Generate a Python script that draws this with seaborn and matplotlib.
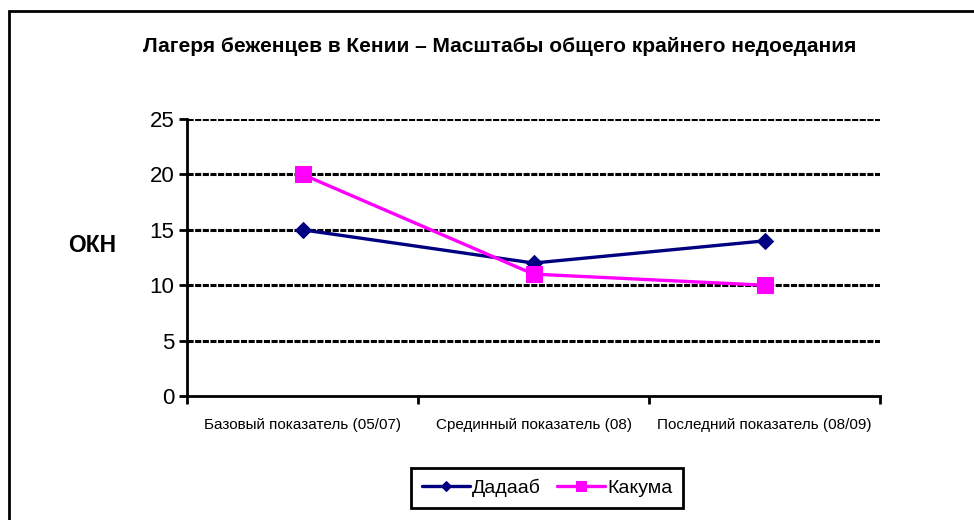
import numpy as np
import pandas as pd
import matplotlib
matplotlib.use("Agg")
import matplotlib.pyplot as plt
import seaborn as sns
from matplotlib.patches import Rectangle

periods = ["Базовый показатель (05/07)", "Срединный показатель (08)", "Последний показатель (08/09)"]
dadaab = [15, 12, 14]
kakuma = [20, 11, 10]
y_ticks = [0, 5, 10, 15, 20, 25]

df = pd.DataFrame({
    "period": periods * 2,
    "pos": list(range(len(periods))) * 2,
    "value": dadaab + kakuma,
    "camp": ["Дадааб"] * 3 + ["Какума"] * 3,
})

sns.set_style("white")
plt.rcParams["font.family"] = ["Liberation Sans", "DejaVu Sans"]
plt.rcParams.update({"text.color": "black", "axes.labelcolor": "black",
                     "xtick.color": "black", "ytick.color": "black"})

fig = plt.figure(figsize=(9.74, 5.2), dpi=100)
ax = fig.add_axes([187 / 974, 1 - 396 / 520, 693 / 974, 277 / 520])

# outer chart border (runs off the right and bottom edges)
fig.patches.append(Rectangle((8.5 / 974, -0.1), 1.2, (1 - 10.5 / 520) + 0.1,
                             transform=fig.transFigure, fill=False,
                             edgecolor="black", linewidth=2))

for y in y_ticks[1:]:
    ax.axhline(y, color="black", linewidth=2.2, linestyle=(0, (2.0, 0.5)), zorder=1)

sns.lineplot(data=df[df.camp == "Дадааб"], x="pos", y="value", ax=ax,
             color="#000080", marker="D", markersize=8, linewidth=2.4,
             markeredgecolor="#000080", label="Дадааб", zorder=3)
sns.lineplot(data=df[df.camp == "Какума"], x="pos", y="value", ax=ax,
             color="#FF00FF", marker="s", markersize=11, linewidth=2.4,
             markeredgecolor="#FF00FF", label="Какума", zorder=3)

ax.set_xlim(-0.5, 2.5)
ax.set_ylim(0, 25)
ax.set_yticks(y_ticks)
ax.set_yticklabels([str(v) for v in y_ticks], fontsize=16)
ax.set_xticks(np.arange(-0.5, 2.6, 1.0))
ax.set_xticklabels([])
ax.set_xticks(range(len(periods)), minor=True)
ax.set_xticklabels(periods, minor=True, fontsize=11)
ax.tick_params(axis="x", which="minor", length=0, pad=16)
ax.tick_params(axis="x", which="major", length=6, width=2, direction="out", bottom=True)
ax.tick_params(axis="y", length=6, width=2, direction="out", left=True, pad=3)
ax.set_xlabel("")
ax.set_ylabel("")

for side in ["top", "right"]:
    ax.spines[side].set_visible(False)
for side in ["left", "bottom"]:
    ax.spines[side].set_color("black")
    ax.spines[side].set_linewidth(2)

fig.text(500 / 974, 1 - 47 / 520, "Лагеря беженцев в Кении – Масштабы общего крайнего недоедания",
         ha="center", va="center", fontsize=15, fontweight="bold")
fig.text(92 / 974, 1 - 245 / 520, "ОКН", ha="center", va="center", fontsize=16.5, fontweight="bold")

leg = ax.legend(loc="center", bbox_to_anchor=(547 / 974, 1 - 488 / 520),
                bbox_transform=fig.transFigure, ncol=2, frameon=True, fancybox=False,
                fontsize=14, handlelength=2.5, handletextpad=0.1, columnspacing=0.8,
                borderpad=0.55, markerscale=0.65)
leg.get_frame().set_edgecolor("black")
leg.get_frame().set_linewidth(2)
leg.get_frame().set_alpha(1)

fig.savefig("out.png", dpi=100)
